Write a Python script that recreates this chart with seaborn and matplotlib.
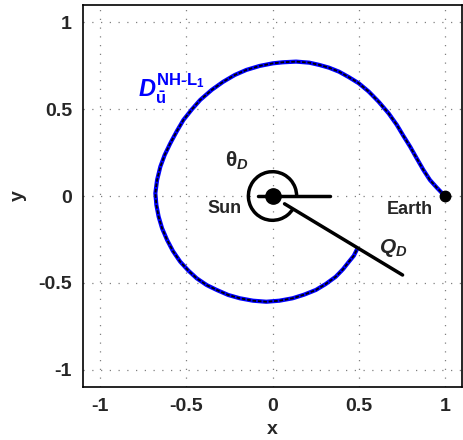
import matplotlib
matplotlib.use("Agg")
import matplotlib.pyplot as plt
from matplotlib.patches import Arc
import pandas as pd
import seaborn as sns

# transfer trajectory (Earth -> end point on Q_D line)
traj_x = [1.0, 0.952, 0.914, 0.876, 0.837, 0.799, 0.760, 0.722, 0.674, 0.616,
          0.559, 0.501, 0.444, 0.386, 0.328, 0.271, 0.213, 0.137, 0.059, 0.002,
          -0.075, -0.152, -0.219, -0.286, -0.353, -0.42, -0.468, -0.517, -0.555,
          -0.593, -0.626, -0.651, -0.670, -0.680, -0.674, -0.661, -0.641, -0.612,
          -0.578, -0.536, -0.488, -0.44, -0.382, -0.324, -0.257, -0.19, -0.113,
          -0.036, 0.040, 0.117, 0.184, 0.252, 0.309, 0.367, 0.409, 0.444, 0.472,
          0.492]
traj_y = [0.0, 0.050, 0.092, 0.150, 0.217, 0.284, 0.346, 0.409, 0.476, 0.543,
          0.601, 0.649, 0.684, 0.716, 0.739, 0.755, 0.768, 0.774, 0.770, 0.764,
          0.749, 0.726, 0.697, 0.658, 0.611, 0.553, 0.499, 0.438, 0.374,
          0.304, 0.236, 0.169, 0.092, 0.016, -0.052, -0.119, -0.186, -0.253,
          -0.317, -0.378, -0.430, -0.474, -0.513, -0.541, -0.570, -0.589, -0.603,
          -0.609, -0.603, -0.589, -0.568, -0.541, -0.507, -0.465, -0.422, -0.378,
          -0.344, -0.304]

sun = (0.0, 0.0)
earth = (1.0, 0.0)

# reference line and Q_D direction line
ref_x = [-0.085, 0.335]
ref_y = [0.0, 0.0]
q_x = [0.07, 0.755]
q_y = [-0.045, -0.455]

theta_d = 329.0      # degrees, angle swept by the arc
arc_r = 0.14

ticks = [-1, -0.5, 0, 0.5, 1]
tick_labels = ["-1", "-0.5", "0", "0.5", "1"]

sns.set_style("white")
plt.rcParams['font.family'] = ['Liberation Sans', 'DejaVu Sans']
plt.rcParams['font.weight'] = 'bold'
plt.rcParams['mathtext.fontset'] = 'custom'
plt.rcParams['mathtext.rm'] = 'Liberation Sans:bold'
plt.rcParams['mathtext.it'] = 'Liberation Sans:italic:bold'
plt.rcParams['mathtext.bf'] = 'Liberation Sans:bold'

fig = plt.figure(figsize=(4.64, 4.40), dpi=100)
ax = fig.add_axes([83/464, 53/440, 379/464, 382/440])

df = pd.DataFrame({"x": traj_x, "y": traj_y})
sns.lineplot(data=df, x="x", y="y", sort=False, estimator=None,
             color="blue", lw=3, ax=ax)
sns.lineplot(data=df, x="x", y="y", sort=False, estimator=None,
             color="black", lw=1.3, ax=ax)
ax.lines[-1].set_dashes([2, 1])

sns.lineplot(x=ref_x, y=ref_y, color="black", lw=2.5, ax=ax)
sns.lineplot(x=q_x, y=q_y, color="black", lw=2.5, ax=ax)
ax.add_patch(Arc(sun, 2*arc_r, 2*arc_r, theta1=0, theta2=theta_d,
                 color="black", lw=2.5))

ax.plot(*sun, "o", color="black", ms=11)
ax.plot(*earth, "o", color="black", ms=7.5)

ax.text(-0.28, -0.07, "Sun", fontsize=13, fontweight="bold", ha="center", va="center")
ax.text(0.795, -0.075, "Earth", fontsize=13, fontweight="bold", ha="center", va="center")
ax.text(-0.21, 0.2, r"$\mathrm{\theta}_{D}$", fontsize=15, ha="center", va="center")
ax.text(0.70, -0.30, r"$Q_{D}$", fontsize=15, ha="center", va="center")
ax.text(-0.59, 0.62, r"$D_{\bar{\mathrm{u}}}^{\mathrm{NH\text{-}L}_{1}}$", fontsize=17,
        color="blue", ha="center", va="center")

ax.set_xlim(-1.1, 1.1)
ax.set_ylim(-1.1, 1.1)
ax.set_xticks(ticks)
ax.set_xticklabels(tick_labels)
ax.set_yticks(ticks)
ax.set_yticklabels(tick_labels)
ax.tick_params(direction="in", length=3, labelsize=14, pad=8)
for lab in ax.get_xticklabels() + ax.get_yticklabels():
    lab.set_fontweight("bold")
ax.set_xlabel("x", fontsize=14, fontweight="bold", labelpad=4)
ax.set_ylabel("y", fontsize=14, fontweight="bold", labelpad=8)
ax.grid(True, linestyle=(0, (1, 6)), color="gray", lw=0.9)
for s in ax.spines.values():
    s.set_color("black")
    s.set_linewidth(1.2)

fig.savefig("out.png", dpi=100)
